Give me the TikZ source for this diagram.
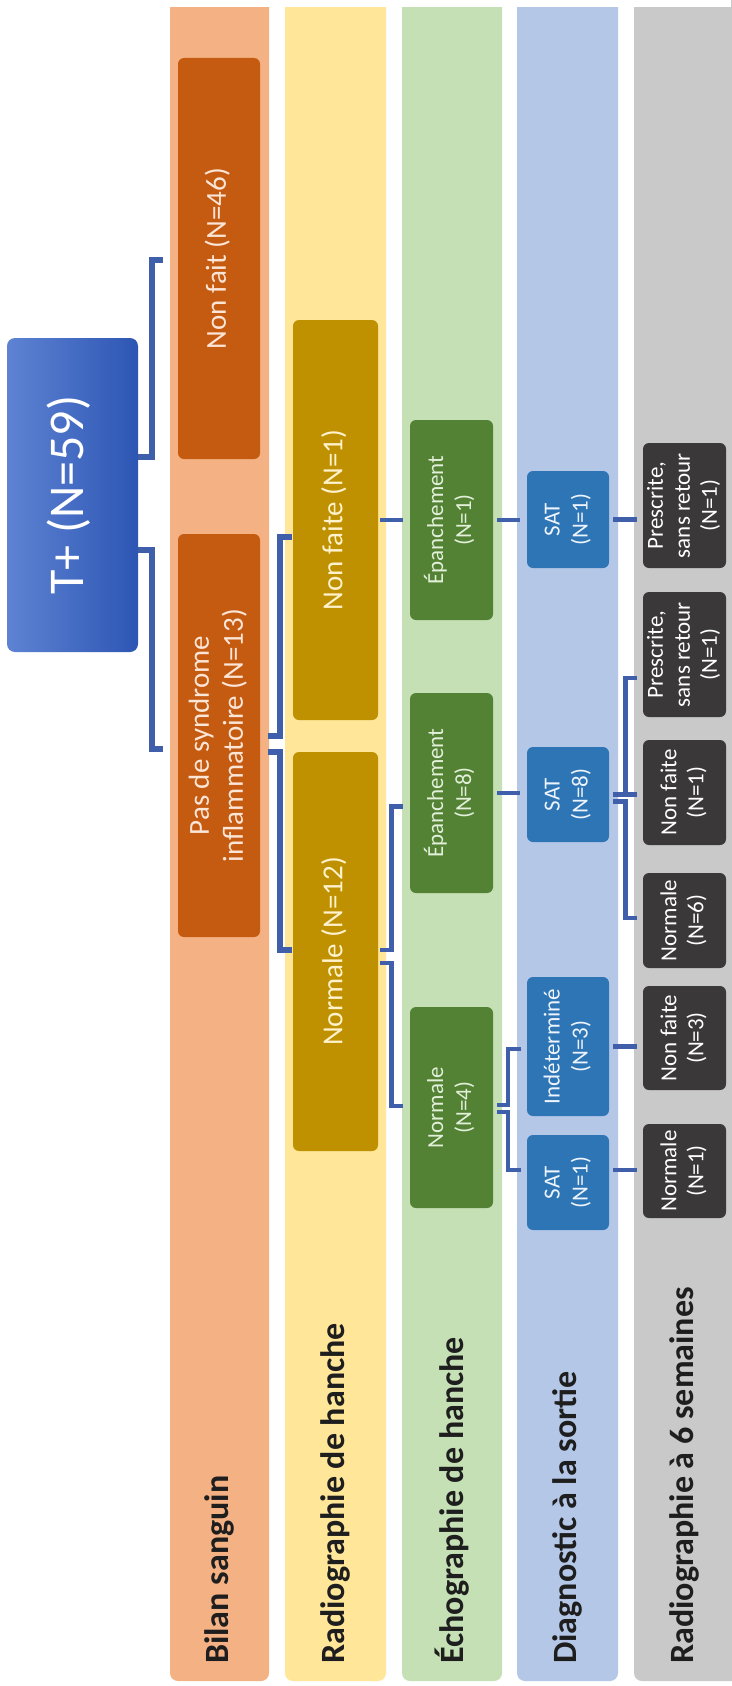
\documentclass[tikz,border=0pt]{standalone}
\usepackage{fontspec}
\setmainfont{Carlito}
\usetikzlibrary{calc}

% band backgrounds
\definecolor{bandA}{HTML}{F4B183}
\definecolor{bandB}{HTML}{FFE699}
\definecolor{bandC}{HTML}{C5E0B4}
\definecolor{bandD}{HTML}{B4C7E7}
\definecolor{bandE}{HTML}{C9C9C9}
% box fills
\definecolor{boxA}{HTML}{C55A11}
\definecolor{boxB}{HTML}{BF9000}
\definecolor{boxC}{HTML}{548235}
\definecolor{boxD}{HTML}{2E75B6}
\definecolor{boxE}{HTML}{3A3838}
% box texts
\definecolor{txtA}{HTML}{FBE5D6}
\definecolor{txtB}{HTML}{FFF2CC}
\definecolor{txtC}{HTML}{E2F0D9}
\definecolor{txtD}{HTML}{EEF4FB}
\definecolor{txtE}{HTML}{FFFFFF}
\definecolor{rootL}{HTML}{5E83D3}
\definecolor{rootR}{HTML}{2D56B4}
\definecolor{linkc}{HTML}{3F5FAB}
\definecolor{labc}{HTML}{1E1E1E}

% vertical (rotated) multi-line text
\newcommand\vt[1]{\rotatebox{90}{\begin{tabular}{@{}c@{}}#1\end{tabular}}}

\begin{document}
\begin{tikzpicture}[x=1pt,y=-1pt,
  cell/.style={rectangle, rounded corners=6pt, inner sep=0pt, draw=none},
  lvlA/.style={cell, fill=boxA, text=txtA, minimum width=82pt, font=\fontsize{29}{34}\selectfont},
  lvlB/.style={cell, fill=boxB, text=txtB, minimum width=85pt, font=\fontsize{29}{34}\selectfont},
  lvlC/.style={cell, fill=boxC, text=txtC, minimum width=83pt, font=\fontsize{23}{28}\selectfont},
  lvlD/.style={cell, fill=boxD, text=txtD, minimum width=82pt, font=\fontsize{23}{28}\selectfont},
  lvlE/.style={cell, fill=boxE, text=txtE, minimum width=83pt, font=\fontsize{23}{27}\selectfont},
  rootbox/.style={cell, rounded corners=8pt, left color=rootL, right color=rootR, text=white,
    minimum width=131pt, minimum height=314pt, font=\fontsize{50}{56}\selectfont},
  bandlab/.style={rotate=90, anchor=west, inner sep=0pt, text=labc,
    font=\fontsize{34}{40}\selectfont\bfseries},
  link/.style={draw=linkc, line width=4.5pt},
  linkthick/.style={draw=linkc, line width=6pt}]

\useasboundingbox (0,0) rectangle (731,1686);
\fill[white] (0,0) rectangle (731,1686);

% stage bands
\fill[bandA, rounded corners=8pt] (170,-30) rectangle (269,1681);
\fill[bandB, rounded corners=8pt] (285,-30) rectangle (386,1681);
\fill[bandC, rounded corners=8pt] (402,-30) rectangle (502,1681);
\fill[bandD, rounded corners=8pt] (517,-30) rectangle (618,1681);
\fill[bandE, rounded corners=8pt] (634,-30) rectangle (760,1681);
\fill[white] (0,-40) rectangle (731,7);

% stage titles
\node[bandlab] (labA) at (219.5,1664) {Bilan sanguin};
\node[bandlab] (labB) at (335.5,1664) {Radiographie de hanche};
\node[bandlab] (labC) at (452,1664) {Échographie de hanche};
\node[bandlab] (labD) at (567.5,1664) {Diagnostic à la sortie};
\node[bandlab] (labE) at (684,1664) {Radiographie à 6 semaines};

% root
\node[rootbox] (tp) at (72.5,495) {\vt{T+ (N=59)}};

% blood tests
\node[lvlA, minimum height=401pt] (nf46) at (219,258.5) {\vt{Non fait (N=46)}};
\node[lvlA, minimum height=403pt] (pds) at (219,735.5) {\vt{Pas de syndrome\\inflammatoire (N=13)}};

% hip X-ray
\node[lvlB, minimum height=400pt] (nf1) at (335.5,520) {\vt{Non faite (N=1)}};
\node[lvlB, minimum height=399pt] (n12) at (335.5,951.5) {\vt{Normale (N=12)}};

% hip ultrasound
\node[lvlC, minimum height=200pt] (ep1) at (451.5,520) {\vt{Épanchement\\(N=1)}};
\node[lvlC, minimum height=200pt] (ep8) at (451.5,793) {\vt{Épanchement\\(N=8)}};
\node[lvlC, minimum height=201pt] (n4) at (451.5,1107.5) {\vt{Normale\\(N=4)}};

% discharge diagnosis
\node[lvlD, minimum height=97pt] (sat1a) at (568,519.5) {\vt{SAT\\(N=1)}};
\node[lvlD, minimum height=95pt] (sat8) at (568,794.5) {\vt{SAT\\(N=8)}};
\node[lvlD, minimum height=139pt] (ind3) at (568,1046.5) {\vt{Indéterminé\\(N=3)}};
\node[lvlD, minimum height=95pt] (sat1b) at (568,1182.5) {\vt{SAT\\(N=1)}};

% X-ray at 6 weeks
\node[lvlE, minimum height=125pt] (pr1a) at (684.5,505.5) {\vt{Prescrite,\\sans retour\\(N=1)}};
\node[lvlE, minimum height=125pt] (pr1b) at (684.5,654.5) {\vt{Prescrite,\\sans retour\\(N=1)}};
\node[lvlE, minimum height=105pt] (nf1b) at (684.5,792.5) {\vt{Non faite\\(N=1)}};
\node[lvlE, minimum height=95pt] (n6) at (684.5,920.5) {\vt{Normale\\(N=6)}};
\node[lvlE, minimum height=104pt] (nf3) at (684.5,1038) {\vt{Non faite\\(N=3)}};
\node[lvlE, minimum height=94pt] (n1) at (684.5,1171) {\vt{Normale\\(N=1)}};

% connectors
\draw[linkthick] ($(tp.east)+(0,-38)$) -- ++(13.5,0) |- ($(nf46.west)+(-15,1.5)$);
\draw[linkthick] ($(tp.east)+(0,55)$) -- ++(13.5,0) |- ($(pds.west)+(-15,13.5)$);

\draw[linkthick] ($(pds.east)+(8,0)$) -- ++(12,0) |- ($(nf1.west)+(-1,17)$);
\draw[linkthick] ($(pds.east)+(8,16.5)$) -- ++(12,0) |- ($(n12.west)+(-1,-1.5)$);

\draw[link] ($(nf1.east)+(2,0)$) -- ($(ep1.west)+(-7,0)$);
\draw[link] ($(n12.east)+(2,-1.5)$) -- ++(11.5,0) |- ($(ep8.west)+(-7,13.7)$);
\draw[link] ($(n12.east)+(2,11.5)$) -- ++(11.5,0) |- ($(n4.west)+(-7,-1.5)$);

\draw[link] ($(ep1.east)+(4,0)$) -- ($(ep1.east -| sat1a.west)+(-7,0)$);
\draw[link] ($(ep8.east)+(4,0)$) -- ($(ep8.east -| sat8.west)+(-7,0)$);
\draw[link] ($(n4.east)+(4,-2.5)$) -- ++(11,0) |- ($(ind3.west)+(-6,2.5)$);
\draw[link] ($(n4.east)+(4,4.5)$) -- ++(11,0) |- ($(sat1b.west)+(-6,-12.5)$);

\draw[link] ($(sat1a.east)+(4,0)$) -- ($(sat1a.east -| pr1a.west)+(-6,0)$);
\draw[link] ($(sat8.east)+(4,0)$) -- ($(sat8.east -| nf1b.west)+(-6,0)$);
\draw[link] ($(sat8.east)+(4,0)$) -- ++(12.5,0) |- ($(pr1b.west)+(-6,23.5)$);
\draw[link] ($(sat8.east)+(4,7)$) -- ++(12.5,0) |- ($(n6.west)+(-6,-2.5)$);
\draw[link] ($(ind3.east)+(4,0)$) -- ($(ind3.east -| nf3.west)+(-6,0)$);
\draw[link] ($(sat1b.east)+(4,-12.5)$) -- ($(sat1b.east -| n1.west)+(-6,-12.5)$);
\end{tikzpicture}
\end{document}
